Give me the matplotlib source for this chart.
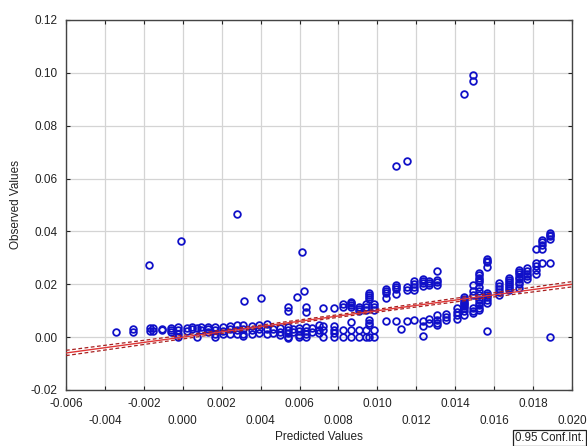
import numpy as np
import matplotlib.pyplot as plt
from matplotlib.ticker import FixedLocator

plt.rcParams['font.family'] = ['Liberation Sans', 'DejaVu Sans']

# predicted value of each column of points and the observed values stacked on it
column_pred = [
    -0.00343, -0.00254, -0.00170, -0.00155, -0.00108, -0.00060, -0.00023,
    0.00020, 0.00050, 0.00072, 0.00092, 0.00131, 0.00166, 0.00208, 0.00243,
    0.00277, 0.00311, 0.00354, 0.00393, 0.00431, 0.00465, 0.00500, 0.00542,
    0.00568, 0.00599, 0.00633, 0.00662, 0.00700,
    0.00722, 0.00777, 0.00825, 0.00864, 0.00907, 0.00941, 0.00957, 0.00984,
    0.01044, 0.01097, 0.01123, 0.01150, 0.01190, 0.01233, 0.01267, 0.01306,
    0.01353, 0.01407, 0.01445, 0.01490, 0.01524, 0.01565, 0.01626, 0.01678,
    0.01728, 0.01767, 0.01813, 0.01847, 0.01887,
    -0.00174, -0.00009, 0.00279, 0.00313, 0.00402, 0.00589, 0.00613, 0.00623,
    0.01097, 0.01151, 0.01447, 0.01490,
]
column_obs = [
    [0.0018], [0.0030, 0.0018], [0.0034, 0.0025], [0.0033, 0.0022],
    [0.0031, 0.0026], [0.0036, 0.0028, 0.0020], [0.0040, 0.0027, 0.0012, 0.0000],
    [0.0033, 0.0024], [0.0040, 0.0030], [0.0035, 0.0002], [0.0040, 0.0027],
    [0.0040, 0.0030, 0.0021], [0.0040, 0.0027, 0.0012, 0.0002],
    [0.0040, 0.0025, 0.0010], [0.0042, 0.0030, 0.0012],
    [0.0044, 0.0028, 0.0010], [0.0045, 0.0030, 0.0012, 0.0003],
    [0.0043, 0.0027, 0.0010], [0.0046, 0.0030, 0.0015],
    [0.0048, 0.0032, 0.0010], [0.0030, 0.0015], [0.0035, 0.0020, 0.0008],
    [0.0115, 0.0099, 0.0040, 0.0028, 0.0015, 0.0002, -0.0004],
    [0.0032, 0.0018], [0.0035, 0.0022, 0.0008, 0.0000],
    [0.0115, 0.0096, 0.0040, 0.0025, 0.0010, 0.0000], [0.0035, 0.0020],
    [0.0047, 0.0027, 0.0015],
    [0.0109, 0.0042, 0.0027, 0.0000], [0.0112, 0.0042, 0.0027, 0.0016, 0.0000],
    [0.0125, 0.0115, 0.0027, 0.0000],
    [0.0134, 0.0128, 0.0121, 0.0115, 0.0059, 0.0027, 0.0000],
    [0.0115, 0.0108, 0.0100, 0.0027, 0.0000],
    [0.0126, 0.0115, 0.0103, 0.0027, 0.0000],
    [0.0168, 0.0160, 0.0152, 0.0145, 0.0065, 0.0055, 0.0047, 0.0000],
    [0.0126, 0.0115, 0.0101, 0.0027, 0.0000],
    [0.0182, 0.0174, 0.0166, 0.0148, 0.0061],
    [0.0197, 0.0190, 0.0183, 0.0165, 0.0061], [0.0030],
    [0.0191, 0.0178, 0.0061], [0.0213, 0.0202, 0.0190, 0.0180, 0.0065],
    [0.0219, 0.0212, 0.0206, 0.0194, 0.0061, 0.0042, 0.0005],
    [0.0213, 0.0205, 0.0196, 0.0068, 0.0055],
    [0.0252, 0.0216, 0.0207, 0.0197, 0.0084, 0.0065, 0.0055, 0.0045],
    [0.0086, 0.0075, 0.0065], [0.0110, 0.0095, 0.0082, 0.0068],
    [0.0153, 0.0145, 0.0138, 0.0131, 0.0125, 0.0118, 0.0110, 0.0097, 0.0085],
    [0.0197, 0.0175, 0.0160, 0.0110, 0.0100, 0.0091],
    [0.0243, 0.0234, 0.0225, 0.0216, 0.0208, 0.0190, 0.0176, 0.0160, 0.0141,
     0.0130, 0.0121, 0.0112, 0.0103],
    [0.0296, 0.0289, 0.0283, 0.0267, 0.0167, 0.0158, 0.0150, 0.0140, 0.0129,
     0.0024],
    [0.0205, 0.0194, 0.0183, 0.0172, 0.0160],
    [0.0224, 0.0217, 0.0210, 0.0202, 0.0195, 0.0187, 0.0178],
    [0.0254, 0.0246, 0.0237, 0.0228, 0.0219, 0.0210, 0.0200, 0.0185],
    [0.0260, 0.0250, 0.0240, 0.0230, 0.0220],
    [0.0335, 0.0280, 0.0268, 0.0255, 0.0240],
    [0.0368, 0.0359, 0.0350, 0.0335, 0.0280],
    [0.0395, 0.0388, 0.0382, 0.0370, 0.0280, 0.0000],
    [0.0273], [0.0364], [0.0466], [0.0138], [0.0149], [0.0153], [0.0322],
    [0.0174], [0.0649], [0.0667], [0.0920], [0.0993, 0.0969],
]

# regression of observed on predicted and its 0.95 band
fit_intercept = 0.0
fit_slope = 1.0
band_center = 0.007      # x where the band is narrowest
band_half_min = 0.0005   # half width there
band_spread = 0.0666     # growth of half width away from the center

x_ticks_top = [-0.006, -0.002, 0.002, 0.006, 0.010, 0.014, 0.018]
x_ticks_bottom = [-0.004, 0.000, 0.004, 0.008, 0.012, 0.016, 0.020]
y_ticks = [-0.02, 0.00, 0.02, 0.04, 0.06, 0.08, 0.10, 0.12]

pred = np.repeat(column_pred, [len(c) for c in column_obs])
obs = np.concatenate(column_obs)

xs = np.linspace(-0.006, 0.020, 200)
fit = fit_intercept + fit_slope * xs
half = np.sqrt(band_half_min ** 2 + (band_spread * (xs - band_center)) ** 2)

fig = plt.figure(figsize=(5.87, 4.46), dpi=100)
ax = fig.add_axes([0.1124, 0.1256, 0.862, 0.8296])

ax.plot(pred, obs, 'o', mfc='none', mec='#1010c8', ms=4.8, mew=1.3, zorder=3)
ax.plot(xs, fit, color='#e03535', lw=1.0, zorder=4)
ax.plot(xs, fit + half, color='#a82020', lw=0.9, ls=(0, (3, 2)), zorder=4)
ax.plot(xs, fit - half, color='#a82020', lw=0.9, ls=(0, (3, 2)), zorder=4)

ax.set_xlim(-0.006, 0.020)
ax.set_ylim(-0.02, 0.12)

# staggered x labels: two rows of ticks
ax.xaxis.set_major_locator(FixedLocator(x_ticks_top))
ax.xaxis.set_minor_locator(FixedLocator(x_ticks_bottom))
ax.set_xticklabels(['%.3f' % v for v in x_ticks_top])
ax.set_xticklabels(['%.3f' % v for v in x_ticks_bottom], minor=True)
ax.set_yticks(y_ticks)
ax.set_yticklabels(['%.2f' % v for v in y_ticks])

ax.tick_params(which='both', direction='in', top=True, right=True,
               labelsize=8.5, colors='#222222', length=3, width=0.8)
ax.tick_params(axis='x', which='major', pad=6)
ax.tick_params(axis='x', which='minor', pad=18)
ax.tick_params(axis='y', pad=6)

ax.grid(True, which='both', color='#d4d4d4', lw=0.9)
ax.set_axisbelow(True)
for sp in ax.spines.values():
    sp.set_color('#444444')
    sp.set_linewidth(1.0)

ax.set_xlabel('Predicted Values', fontsize=8.5, labelpad=3, color='#222222')
ax.set_ylabel('Observed Values', fontsize=8.5, labelpad=6, color='#222222')

fig.text(0.877, 0.004, '0.95 Conf.Int.', fontsize=8.3, color='#222222',
         ha='left', va='bottom',
         bbox=dict(boxstyle='square,pad=0.15', fc='white', ec='#222222', lw=0.9))

fig.savefig('out.png', dpi=100)
